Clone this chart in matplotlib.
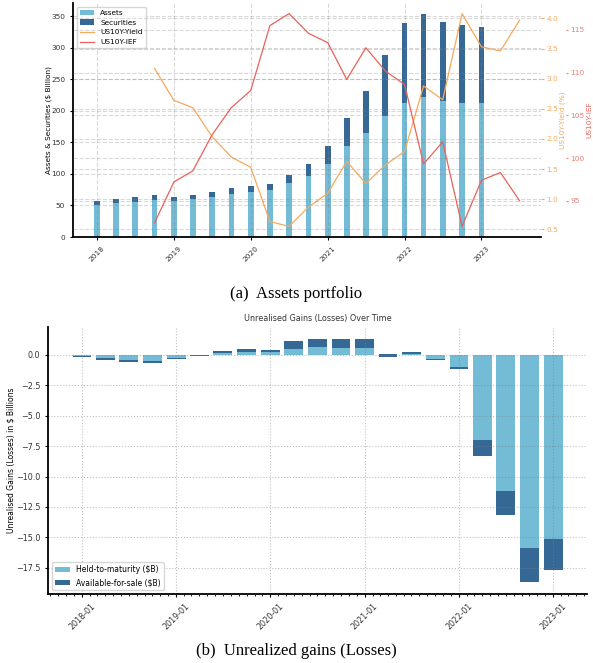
import numpy as np
import pandas as pd
import matplotlib
matplotlib.use('Agg')
import matplotlib.pyplot as plt
import matplotlib.dates as mdates

# ---------------------------------------------------------------
# data
# ---------------------------------------------------------------
bar_dates = pd.date_range('2018-01-01', '2023-01-01', freq='QS')
line_dates = pd.date_range('2018-10-01', '2023-07-01', freq='QS')

assets = [50, 54, 56, 58, 57, 60, 63, 68, 71, 74, 85,
          97, 116, 144, 164, 191, 212, 221, 215, 213, 213]
total = [57, 60, 63, 66, 63, 66, 71, 77, 81, 84, 98,
         116, 144, 189, 231, 288, 339, 353, 340, 336, 332]
securities = [t - a for t, a in zip(total, assets)]

us10y_yield = [3.17, 2.64, 2.52, 2.04, 1.70, 1.53, 0.63, 0.55, 0.87, 1.10,
               1.63, 1.26, 1.57, 1.79, 2.88, 2.65, 4.08, 3.53, 3.46, 3.97]
us10y_ief = [92.4, 97.2, 98.5, 102.7, 105.9, 107.9, 115.5, 116.9, 114.6, 113.5,
             109.2, 112.9, 110.2, 108.6, 99.3, 101.9, 92.0, 97.4, 98.3, 95.0]

htm = [-0.08, -0.25, -0.44, -0.52, -0.25, -0.03, 0.14, 0.22, 0.19, 0.46, 0.63,
       0.55, 0.55, 0.05, 0.05, -0.33, -1.01, -7.03, -11.21, -15.89, -15.15]
htm_afs_total = [-0.16, -0.41, -0.57, -0.66, -0.33, -0.10, 0.30, 0.46, 0.38, 1.12, 1.29,
                 1.29, 1.29, -0.16, 0.22, -0.44, -1.18, -8.31, -13.18, -18.65, -17.66]
afs = [t - h for t, h in zip(htm_afs_total, htm)]

c_assets = '#74bbd6'
c_sec = '#366896'
c_yield = '#f7a95b'
c_ief = '#e9625a'

fig = plt.figure(figsize=(5.93, 6.63), dpi=100)

# ---------------------------------------------------------------
# (a) assets portfolio
# ---------------------------------------------------------------
ax = fig.add_axes([0.123, 0.6425, 0.789, 0.353])
ax.bar(bar_dates, assets, width=27, color=c_assets, label='Assets')
ax.bar(bar_dates, securities, width=27, bottom=assets, color=c_sec, label='Securities')
ax.set_ylabel('Assets & Securities ($ Billion)', fontsize=5.3, labelpad=-1)

ax2 = ax.twinx()
ax2.plot(line_dates, us10y_yield, color=c_yield, lw=0.9, label='US10Y-Yield')
ax2.set_ylabel('US10Y-Yield (%)', fontsize=5.3, color=c_yield, labelpad=1)
ax2.tick_params(axis='y', colors=c_yield, labelsize=5.3, length=2, pad=2)

ax3 = ax.twinx()
ax3.spines['right'].set_position(('outward', 18))
ax3.plot(line_dates, us10y_ief, color=c_ief, lw=0.9, label='US10Y-IEF')
ax3.set_ylabel('US10Y-IEF', fontsize=5.3, color=c_ief, labelpad=1)
ax3.tick_params(axis='y', colors='#ee7d73', labelsize=5.3, length=1.2, pad=2)

for a in (ax, ax2, ax3):
    a.grid(True, linestyle='--', color='gray', alpha=0.3, lw=0.8)
    a.spines['top'].set_visible(False)
    a.spines['right'].set_visible(False)
for a in (ax2, ax3):
    a.spines['left'].set_visible(False)
    a.spines['bottom'].set_visible(False)
ax.spines['left'].set_linewidth(1.3)
ax.spines['bottom'].set_linewidth(1.3)

ax.xaxis.set_major_locator(mdates.YearLocator())
ax.xaxis.set_major_formatter(mdates.DateFormatter('%Y'))
ax.tick_params(axis='both', labelsize=5.3, length=2, labelcolor='#333333')
plt.setp(ax.get_xticklabels(), rotation=45, ha='center')

h1, l1 = ax.get_legend_handles_labels()
h2, l2 = ax2.get_legend_handles_labels()
h3, l3 = ax3.get_legend_handles_labels()
ax.legend(h1 + h2 + h3, l1 + l2 + l3, loc='upper left', fontsize=5.3)

# ---------------------------------------------------------------
# (b) unrealised gains
# ---------------------------------------------------------------
bx = fig.add_axes([0.081, 0.104, 0.909, 0.403])
bx.bar(bar_dates, htm, width=73, color=c_assets, label='Held-to-maturity ($B)')
bx.bar(bar_dates, afs, width=73, bottom=htm, color=c_sec, label='Available-for-sale ($B)')
bx.set_title('Unrealised Gains (Losses) Over Time', fontsize=5.8, pad=4, color='#333333')
bx.set_ylabel('Unrealised Gains (Losses) in $ Billions', fontsize=5.5, labelpad=0)
bx.grid(True, linestyle=':', color='gray', alpha=0.5, lw=0.8)
bx.spines['top'].set_visible(False)
bx.spines['right'].set_visible(False)
bx.spines['left'].set_linewidth(1.3)
bx.spines['bottom'].set_linewidth(1.3)
bx.xaxis.set_major_locator(mdates.YearLocator())
bx.xaxis.set_minor_locator(mdates.MonthLocator())
bx.xaxis.set_major_formatter(mdates.DateFormatter('%Y-%m'))
bx.tick_params(axis='both', labelsize=5.8, length=2, labelcolor='#333333')
bx.tick_params(axis='x', which='minor', length=1.5)
plt.setp(bx.get_xticklabels(), rotation=45, ha='center')
bx.legend(loc='lower left', fontsize=5.5)

# captions
fig.text(0.5, 0.556, '(a)  Assets portfolio', ha='center', va='center',
         fontsize=12, family='Liberation Serif')
fig.text(0.5, 0.018, '(b)  Unrealized gains (Losses)', ha='center', va='center',
         fontsize=12, family='Liberation Serif')

fig.savefig('out.png', dpi=100)
